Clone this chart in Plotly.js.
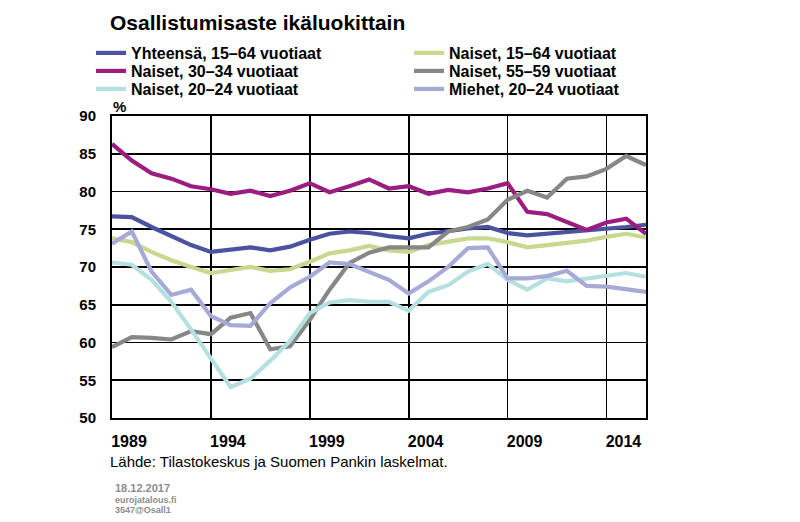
<!DOCTYPE html>
<html>
<head>
<meta charset="utf-8">
<script src="https://cdn.plot.ly/plotly-3.0.1.min.js"></script>
<style>html,body{margin:0;padding:0;background:#fff;}#chart{width:800px;height:522px;}</style>
</head>
<body>
<div id="chart"></div>
<script>
var years = [1989,1990,1991,1992,1993,1994,1995,1996,1997,1998,1999,2000,2001,2002,2003,2004,2005,2006,2007,2008,2009,2010,2011,2012,2013,2014,2015,2016];
var yhteensa1564 = [76.7,76.6,75.3,74.1,72.9,72.0,72.3,72.6,72.2,72.7,73.6,74.4,74.7,74.5,74.1,73.8,74.4,74.8,75.1,75.3,74.5,74.2,74.4,74.7,74.8,75.0,75.3,75.6];
var naiset1564 = [73.8,73.3,72.0,70.9,70.0,69.2,69.6,70.0,69.5,69.7,70.7,71.8,72.2,72.8,72.2,72.0,72.9,73.3,73.8,73.8,73.3,72.6,72.9,73.3,73.5,74.0,74.4,73.9];
var naiset3034 = [86.3,84.1,82.4,81.7,80.7,80.3,79.7,80.1,79.4,80.1,81.1,79.9,80.7,81.6,80.4,80.7,79.7,80.2,79.9,80.4,81.1,77.3,77.0,76.0,74.9,75.9,76.4,74.4];
var naiset5559 = [59.4,60.7,60.6,60.4,61.5,61.1,63.3,63.9,59.1,59.5,63.0,67.0,70.5,71.9,72.6,72.6,72.6,74.7,75.3,76.3,78.9,80.1,79.2,81.7,82.0,83.0,84.7,83.5];
var naiset2024 = [70.6,70.3,68.3,65.4,61.7,57.9,54.1,55.2,57.6,60.2,63.9,65.3,65.6,65.4,65.4,64.2,66.7,67.6,69.4,70.4,68.3,67.0,68.5,68.1,68.5,68.8,69.2,68.7];
var miehet2024 = [73.1,74.7,69.4,66.3,67.0,63.5,62.3,62.2,65.2,67.3,68.7,70.6,70.4,69.4,68.3,66.5,68.1,70.0,72.5,72.6,68.5,68.5,68.8,69.5,67.5,67.4,67.0,66.7];
var seriesNames = ["Yhteensä, 15–64 vuotiaat","Naiset, 15–64 vuotiaat","Naiset, 30–34 vuotiaat","Naiset, 55–59 vuotiaat","Naiset, 20–24 vuotiaat","Miehet, 20–24 vuotiaat"];
var xTickVals = [1989,1994,1999,2004,2009,2014];
var xTickText = ["1989","1994","1999","2004","2009","2014"];
var yTickVals = [50,55,60,65,70,75,80,85,90];
var yTickText = ["50","55","60","65","70","75","80","85","90"];

var seriesData = [yhteensa1564, naiset1564, naiset3034, naiset5559, naiset2024, miehet2024];
var colors = ["#4B52A0","#C8D88E","#9B1D7F","#878787","#B5E0E0","#A7A9D7"];
var legendIds = ["legend","legend2","legend3","legend4","legend5","legend6"];
var legendPos = [[91,53],[409,53],[91,71],[409,71],[91,89],[409,89]];

var FONT = "Liberation Sans, Arial, sans-serif";
var ML = 112, MR = 154, MT = 116, MB = 104, W = 800, H = 522;
var PW = W - ML - MR, PH = H - MT - MB;
function px(x){ return (x - ML) / PW; }
function py(y){ return (H - MB - y) / PH; }

var traces = seriesData.map(function(d,i){
  return {x: years, y: d, type:'scatter', mode:'lines', name: seriesNames[i],
    line:{color: colors[i], width:4.2}, legend: legendIds[i], hoverinfo:'skip'};
});

var layout = {
  width:W, height:H,
  margin:{l:ML, r:MR, t:MT, b:MB, autoexpand:false},
  paper_bgcolor:'#fff', plot_bgcolor:'#fff',
  font:{family:FONT, color:'#000'},
  title:{text:'Osallistumisaste ikäluokittain', xref:'container', yref:'container', x:110/W, xanchor:'left', y:1-23/H, yanchor:'middle', font:{size:21, weight:'bold', color:'#000', family:FONT}},
  xaxis:{range:[1989,2016], tickvals:xTickVals, ticktext:xTickText, showgrid:true, gridcolor:'#000', gridwidth:1.8,
    showline:true, linecolor:'#000', linewidth:2, mirror:true, ticks:'', zeroline:false, tickangle:0, automargin:false,
    ticklabelshift:17, ticklabelstandoff:8, tickfont:{size:16, weight:'bold', family:FONT, color:'#000'}},
  yaxis:{range:[50,90], tickvals:yTickVals, ticktext:yTickText, showgrid:true, gridcolor:'#000', gridwidth:1.8,
    showline:true, linecolor:'#000', linewidth:2, mirror:true, ticks:'', zeroline:false, automargin:false,
    ticklabelstandoff:11, tickfont:{size:15, weight:'bold', family:FONT, color:'#000'}},
  showlegend:true,
  annotations:[
    {text:'%', xref:'paper', yref:'paper', x:px(111), xanchor:'left', y:py(106), yanchor:'middle', showarrow:false, font:{size:15, weight:'bold', family:FONT, color:'#000'}},
    {text:'Lähde: Tilastokeskus ja Suomen Pankin laskelmat.', xref:'paper', yref:'paper', x:px(108), xanchor:'left', y:py(461), yanchor:'middle', showarrow:false, font:{size:15, family:FONT, color:'#000'}},
    {text:'18.12.2017', xref:'paper', yref:'paper', x:px(113), xanchor:'left', y:py(488), yanchor:'middle', showarrow:false, font:{size:11, weight:'bold', family:FONT, color:'#8C8C8C'}},
    {text:'eurojatalous.fi', xref:'paper', yref:'paper', x:px(113), xanchor:'left', y:py(500), yanchor:'middle', showarrow:false, font:{size:9, weight:'bold', family:FONT, color:'#8C8C8C'}},
    {text:'3547@Osall1', xref:'paper', yref:'paper', x:px(113), xanchor:'left', y:py(510), yanchor:'middle', showarrow:false, font:{size:9, weight:'bold', family:FONT, color:'#8C8C8C'}}
  ]
};
legendIds.forEach(function(id,i){
  layout[id] = {xref:'container', yref:'container', x:legendPos[i][0]/W, xanchor:'left', y:1-legendPos[i][1]/H, yanchor:'middle',
    bgcolor:'rgba(0,0,0,0)', borderwidth:0, font:{size:16, weight:'bold', family:FONT, color:'#000'}};
});

Plotly.newPlot('chart', traces, layout, {displayModeBar:false, staticPlot:true});
</script>
</body>
</html>
